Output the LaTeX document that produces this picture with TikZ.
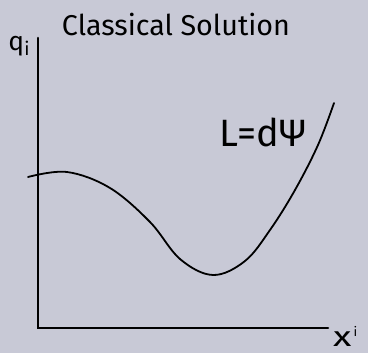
\documentclass[tikz,border=0pt]{standalone}
\usepackage{fontspec}
\setmainfont{Fira Sans}
\usepackage{graphicx}
\definecolor{bg}{RGB}{200,201,214}
\begin{document}
\begin{tikzpicture}[x=1pt,y=-1pt,
  axis/.style={line width=2.6pt,line cap=round},
  curve/.style={line width=1.8pt,line cap=round},
  lbl/.style={inner sep=0pt,text=black}]
\fill[bg] (0,0) rectangle (368,353);
\useasboundingbox (0,0) rectangle (368,353);
\coordinate (top) at (38,38);
\coordinate (origin) at (38,328);
\coordinate (right) at (328,328);
\draw[axis] (top) -- (origin) -- (right);
\draw[curve] plot[smooth,tension=0.6] coordinates {(28,177) (67,172) (110,188) (150,222) (180,259) (213,275) (245,261) (270,230) (295,190) (318,145) (334,103)};
\node[lbl] (title) at (176,24) {\resizebox{228pt}{!}{\fontseries{l}\selectfont Classical Solution}};
\node[lbl] (q) at (19,46) {\resizebox{21pt}{!}{q\raisebox{-0.4ex}{\scriptsize i}}};
\node[lbl,anchor=base west] (x) at (333,347) {\fontsize{28}{28}\selectfont\scalebox{1.35}[1]{x}\hspace{2pt}\raisebox{10pt}{\fontsize{13}{13}\selectfont i}};
\node[lbl] (L) at (263,132) {\resizebox{86pt}{!}{L=dΨ}};
\end{tikzpicture}
\end{document}
